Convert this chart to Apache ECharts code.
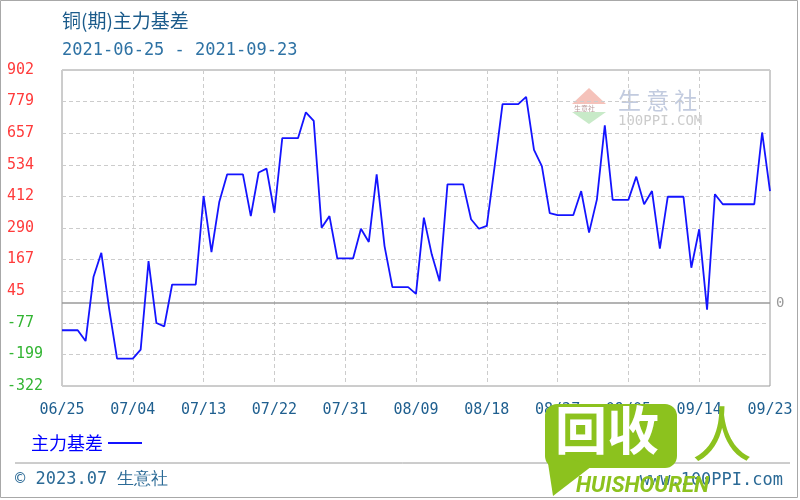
<!DOCTYPE html>
<html><head><meta charset="utf-8">
<script src="https://cdn.jsdelivr.net/npm/echarts@6/dist/echarts.min.js"></script>
<style>html,body{margin:0;padding:0;background:#fff}#c{width:800px;height:500px}</style>
</head><body><div id="c"></div>
<script>
const titleText = '铜(期)主力基差';
const subTitleText = '2021-06-25 - 2021-09-23';
const seriesName = '主力基差';
const startDate = [2021, 6, 25];
const dayCount = 91;
const basis = [
  -106, -106, -106, -148, 100, 194, -24, -216, -216, -216,
  -181, 162, -78, -91, 71, 71, 71, 71, 414, 197,
  392, 498, 498, 498, 336, 505, 520, 349, 638, 638,
  638, 738, 705, 291, 336, 172, 172, 172, 287, 236,
  498, 220, 61, 61, 61, 35, 330, 188, 84, 459,
  459, 459, 324, 287, 298, 530, 770, 770, 770, 798,
  593, 530, 348, 340, 340, 340, 433, 272, 401, 688,
  399, 399, 399, 489, 382, 433, 210, 411, 411, 411,
  136, 285, -26, 421, 382, 382, 382, 382, 382, 660,
  433
];
const yMin = -322, yMax = 902, yStep = 122.4;
const yTickLabels = ['-322', '-199', '-77', '45', '167', '290', '412', '534', '657', '779', '902'];
const zeroLabel = '0';
const footerLeft = '© 2023.07 生意社';
const footerRight = 'www.100PPI.com';

const dates = [];
(function () {
  const d = new Date(Date.UTC(startDate[0], startDate[1] - 1, startDate[2]));
  for (let i = 0; i < dayCount; i++) {
    dates.push(String(d.getUTCMonth() + 1).padStart(2, '0') + '/' + String(d.getUTCDate()).padStart(2, '0'));
    d.setUTCDate(d.getUTCDate() + 1);
  }
})();

const mono = "'DejaVu Sans Mono', 'Liberation Mono', monospace";
const cjk = "'Noto Sans CJK SC', sans-serif";
const green = '#8cc21e';

const chart = echarts.init(document.getElementById('c'), null, { renderer: 'canvas' });
chart.setOption({
  animation: false,
  backgroundColor: '#fff',
  title: [
    { text: titleText, left: 62, top: 11, padding: 0,
      textStyle: { color: '#1b5b8b', fontSize: 19, fontWeight: 'normal', fontFamily: cjk } },
    { text: subTitleText, left: 62, top: 42, padding: 0,
      textStyle: { color: '#2e72a4', fontSize: 17, fontWeight: 'normal', fontFamily: mono } }
  ],
  legend: {
    left: 31, top: 434, padding: 0, align: 'right',
    icon: 'rect', itemWidth: 34, itemHeight: 2,
    textStyle: { color: '#0000ff', fontSize: 18, fontFamily: cjk },
    data: [seriesName]
  },
  grid: { left: 62, right: 30, top: 70, bottom: 114, show: true, borderColor: '#9a9a9a', borderWidth: 1, containLabel: false },
  xAxis: {
    type: 'category', data: dates, boundaryGap: false,
    axisLine: { show: false }, axisTick: { show: false },
    axisLabel: { interval: 8, margin: 17, color: '#1f5f8f', fontSize: 15, fontFamily: mono, showMaxLabel: true },
    splitLine: { show: true, interval: 8, lineStyle: { color: '#cccccc', type: [4, 3], width: 1 } }
  },
  yAxis: {
    type: 'value', min: yMin, max: yMax, interval: yStep,
    axisLine: { show: false }, axisTick: { show: false },
    axisLabel: {
      align: 'left', margin: 55, fontSize: 15, fontFamily: mono,
      formatter: function (v) { return yTickLabels[Math.round((v - yMin) / yStep)]; },
      color: function (v) { return Number(v) < 0 ? '#33b533' : '#ff3b3b'; }
    },
    splitLine: { show: true, lineStyle: { color: '#cccccc', type: [4, 3], width: 1 } }
  },
  series: [{
    name: seriesName, type: 'line', data: basis,
    showSymbol: false, symbol: 'none', smooth: false,
    lineStyle: { color: '#1414ff', width: 1.8 },
    itemStyle: { color: '#1414ff' },
    z: 5,
    markLine: {
      silent: true, symbol: 'none', animation: false,
      lineStyle: { color: '#9a9a9a', type: 'solid', width: 1.5 },
      label: { position: 'end', distance: 6, formatter: zeroLabel, color: '#999', fontSize: 14, fontFamily: mono },
      data: [{ yAxis: 0 }]
    }
  }],
  graphic: [
    { type: 'rect', shape: { x: 0.5, y: 0.5, width: 797, height: 497 }, style: { fill: 'none', stroke: '#a8a8a8', lineWidth: 1 }, silent: true },
    { type: 'line', shape: { x1: 15, y1: 463, x2: 790, y2: 463 }, style: { stroke: '#9a9a9a', lineWidth: 1 }, silent: true },
    { type: 'text', x: 15, y: 471, style: { text: footerLeft, fill: '#2b6a96', font: '17px ' + mono } },
    { type: 'text', x: 783, y: 472, style: { text: footerRight, fill: '#2b6a96', font: '17px ' + mono, align: 'right' } },
    // 100PPI watermark inside plot
    { type: 'polygon', shape: { points: [[572, 104], [589, 88], [606, 104]] }, style: { fill: '#f5c2ba' }, silent: true },
    { type: 'text', x: 574, y: 105, style: { text: '生意社', fill: '#b89a9a', font: '7px ' + cjk } },
    { type: 'polygon', shape: { points: [[572, 112], [589, 124], [606, 112]] }, style: { fill: '#c8eac8' }, silent: true },
    { type: 'text', x: 618, y: 89, style: { text: '生 意 社', fill: '#c2cbdf', font: '23px ' + cjk } },
    { type: 'text', x: 618, y: 114, style: { text: '100PPI.COM', fill: '#cccccc', font: '14px ' + mono } },
    // green overlay logo
    { type: 'rect', z: 100, shape: { x: 545, y: 404, width: 132, height: 64, r: 12 }, style: { fill: green } },
    { type: 'polygon', z: 100, shape: { points: [[546, 450], [592, 466], [553, 496]] }, style: { fill: green } },
    { type: 'text', z: 101, x: 555, y: 404, style: { text: '回收', fill: '#ffffff', font: 'bold 52px ' + cjk } },
    { type: 'text', z: 101, x: 692, y: 404, style: { text: '人', fill: green, font: '60px ' + cjk } },
    { type: 'text', z: 101, x: 576, y: 475, style: { text: 'HUISHOUREN', fill: green, font: 'italic bold 22px Roboto' } }
  ]
});
</script>
</body></html>
